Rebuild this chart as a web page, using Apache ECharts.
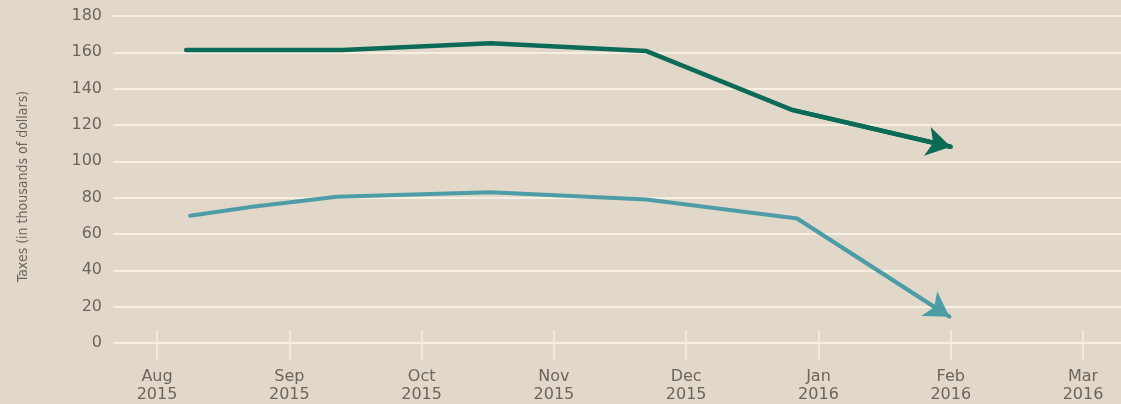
<!DOCTYPE html>
<html>
<head>
<meta charset="utf-8">
<script src="https://cdn.jsdelivr.net/npm/echarts@6/dist/echarts.min.js"></script>
<style>
html,body{margin:0;padding:0;background:#e2d8ca;}
#chart{width:1121px;height:404px;}
</style>
</head>
<body>
<div id="chart"></div>
<script>
// Month tick positions (0 = Aug 2015 ... 7 = Mar 2016) and labels
const tickValues = [0, 1, 2, 3, 4, 5, 6, 7];
const monthLabels = ['Aug\n2015', 'Sep\n2015', 'Oct\n2015', 'Nov\n2015', 'Dec\n2015', 'Jan\n2016', 'Feb\n2016', 'Mar\n2016'];

// Dark green series (x in months since Aug 1 2015, y in thousands of dollars)
const darkX = [0.22, 1.40, 2.52, 3.70, 4.80, 6.00];
const darkY = [161.3, 161.3, 165.0, 160.7, 128.3, 108.0];

// Light teal series
const lightX = [0.25, 0.72, 1.36, 2.52, 3.70, 4.84, 5.99];
const lightY = [70.0, 75.0, 80.5, 83.0, 79.0, 68.5, 14.5];

const yAxisName = 'Taxes (in thousands of dollars)';

const darkColor = '#0b6b56';
const lightColor = '#4e9ca6';
const gridColor = '#f6efe2';
const textColor = '#6a655f';
const labelFont = "'DejaVu Sans', Verdana, sans-serif";

function pairs(xs, ys) { return xs.map((x, i) => [x, ys[i]]); }
function arrowSeg(xs, ys) {
  const n = xs.length;
  return [[{ coord: [xs[n - 2], ys[n - 2]] }, { coord: [xs[n - 1], ys[n - 1]] }]];
}

const xRange = { min: -0.333, max: 7.287 };

const chart = echarts.init(document.getElementById('chart'), null, { renderer: 'canvas' });
chart.setOption({
  animation: false,
  backgroundColor: '#e2d8ca',
  grid: { left: 113, right: 0, top: 16, bottom: 61, containLabel: false },
  xAxis: [
    {
      type: 'value',
      min: xRange.min,
      max: xRange.max,
      axisLine: { show: false },
      splitLine: { show: false },
      axisTick: {
        show: true, inside: false, length: 17,
        customValues: tickValues,
        lineStyle: { color: gridColor, width: 1.5 }
      },
      axisLabel: {
        customValues: tickValues,
        formatter: v => monthLabels[Math.round(v)],
        color: textColor,
        fontFamily: labelFont,
        fontSize: 16,
        lineHeight: 18,
        margin: 25
      }
    },
    {
      type: 'value',
      position: 'bottom',
      min: xRange.min,
      max: xRange.max,
      axisLine: { show: false },
      splitLine: { show: false },
      axisLabel: { show: false },
      axisTick: {
        show: true, inside: true, length: 13,
        customValues: tickValues,
        lineStyle: { color: gridColor, width: 1.5 }
      }
    }
  ],
  yAxis: {
    type: 'value',
    min: 0,
    max: 180,
    interval: 20,
    name: yAxisName,
    nameLocation: 'middle',
    nameGap: 83,
    nameTextStyle: {
      color: textColor,
      fontFamily: "'Liberation Sans Narrow', 'DejaVu Sans Condensed', sans-serif",
      fontSize: 14,
      padding: [0, 14, 0, 0]
    },
    axisLine: { show: false },
    axisTick: { show: false },
    splitLine: { lineStyle: { color: gridColor, width: 2 } },
    axisLabel: { color: textColor, fontFamily: labelFont, fontSize: 16, margin: 11 }
  },
  series: [
    {
      type: 'line',
      data: pairs(darkX, darkY),
      showSymbol: false,
      symbol: 'none',
      lineStyle: { color: darkColor, width: 4.5, cap: 'round', join: 'round' },
      markLine: {
        silent: true,
        symbol: ['none', 'arrow'],
        symbolSize: [22, 24],
        label: { show: false },
        lineStyle: { color: darkColor, width: 4.5, type: 'solid' },
        data: arrowSeg(darkX, darkY)
      },
      z: 3
    },
    {
      type: 'line',
      data: pairs(lightX, lightY),
      showSymbol: false,
      symbol: 'none',
      lineStyle: { color: lightColor, width: 4, cap: 'round', join: 'round' },
      markLine: {
        silent: true,
        symbol: ['none', 'arrow'],
        symbolSize: [22, 24],
        label: { show: false },
        lineStyle: { color: lightColor, width: 4, type: 'solid' },
        data: arrowSeg(lightX, lightY)
      },
      z: 3
    }
  ]
});
</script>
</body>
</html>
